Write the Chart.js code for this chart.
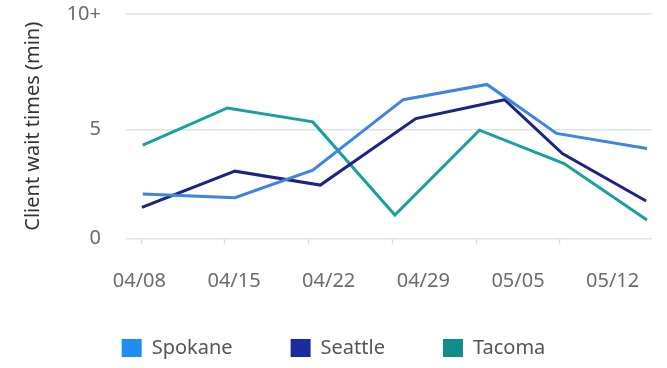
<!DOCTYPE html>
<html>
<head>
<meta charset="utf-8">
<script src="https://cdn.jsdelivr.net/npm/chart.js@4.4.1/dist/chart.umd.min.js"></script>
<style>
  html, body { margin: 0; padding: 0; background: #fff; }
</style>
</head>
<body>
<canvas id="waitChart" width="667" height="368"></canvas>
<script>
// x axis runs in weeks from the first sample; tick marks fall on whole weeks
const WEEK_MARKS = [0, 1, 2, 3, 4, 5];
const DATE_LABELS = ["04/08", "04/15", "04/22", "04/29", "05/05", "05/12"];
const DATE_LABEL_AT = [-0.02, 1.11, 2.24, 3.37, 4.50, 5.63];
const Y_TICKS = [0, 5, 10.3];

// sample times (weeks) and client wait times (min) per office
const spokaneWeeks = [0.02, 1.12, 2.05, 3.13, 4.13, 4.96, 6.04];
const spokaneWait  = [2.04, 1.87, 3.14, 6.37, 7.07, 4.82, 4.13];
const seattleWeeks = [0.01, 1.12, 2.14, 3.28, 4.34, 5.03, 6.03];
const seattleWait  = [1.43, 3.09, 2.45, 5.50, 6.37, 3.90, 1.72];
const tacomaWeeks  = [0.02, 1.03, 2.05, 3.03, 4.04, 5.05, 6.04];
const tacomaWait   = [4.28, 5.99, 5.35, 1.08, 4.97, 3.44, 0.85];

const FONT = "'Noto Sans', 'Open Sans', sans-serif";
Chart.defaults.font.family = FONT;
Chart.defaults.font.size = 20;

function points(weeks, wait) {
  return weeks.map((w, i) => ({ x: w, y: wait[i] }));
}

function series(label, weeks, wait, swatch, line) {
  return {
    label: label,
    data: points(weeks, wait),
    backgroundColor: swatch,
    borderColor: line,
    borderWidth: 3,
    pointRadius: 0,
    tension: 0,
    fill: false,
  };
}

const ctx = document.getElementById("waitChart").getContext("2d");
new Chart(ctx, {
  type: "line",
  data: {
    datasets: [
      series("Spokane", spokaneWeeks, spokaneWait, "#1e8cf0", "#3d85e0"),
      series("Seattle", seattleWeeks, seattleWait, "#1a2b9e", "#1c2385"),
      series("Tacoma", tacomaWeeks, tacomaWait, "#0f8c8c", "#1a9e9e"),
    ],
  },
  options: {
    responsive: false,
    animation: false,
    layout: { padding: { top: 14, left: 0, right: 0, bottom: 0 } },
    scales: {
      x: {
        type: "linear",
        min: -0.18,
        max: 6.1,
        // whole-week marks carry the tick lines, date ticks carry the text
        afterBuildTicks: (axis) => {
          const marks = WEEK_MARKS.map((v) => ({ value: v, mark: true }));
          const dates = DATE_LABEL_AT.map((v, i) => ({ value: v, text: DATE_LABELS[i] }));
          axis.ticks = marks.concat(dates).sort((a, b) => a.value - b.value);
        },
        afterFit: (scale) => { scale.height = 41.5; },
        ticks: {
          autoSkip: false,
          maxRotation: 0,
          // mirrored labels are not clipped to the short axis box;
          // the negative padding pushes them back below the axis
          mirror: true,
          padding: -43,
          color: "#6b6b6b",
          font: { size: 20, lineHeight: "1px" },
          callback: (v, i, ticks) => ticks[i].text || "",
        },
        grid: {
          drawOnChartArea: false,
          tickLength: 5,
          tickWidth: 1.5,
          tickColor: (c) => (c.tick && c.tick.mark ? "#d8d8d8" : "rgba(0,0,0,0)"),
        },
        border: { display: false },
      },
      y: {
        min: 0,
        max: 10.3,
        afterBuildTicks: (axis) => {
          axis.ticks = Y_TICKS.map((v) => ({ value: v }));
        },
        afterFit: (scale) => { scale.width = 126; },
        ticks: {
          padding: 0,
          color: "#6b6b6b",
          callback: (v) => (v > 10 ? "10+" : v),
        },
        grid: {
          color: "#e2e2e2",
          lineWidth: 1.5,
          tickLength: 25,
          tickColor: "rgba(0,0,0,0)",
        },
        border: { display: false },
        title: {
          display: true,
          text: "Client wait times (min)",
          color: "#333333",
          font: { size: 20 },
          padding: { top: 21, bottom: 0 },
        },
      },
      // empty axis that keeps a margin on the right of the plot
      yGap: {
        position: "right",
        display: true,
        afterFit: (scale) => { scale.width = 15; },
        ticks: { display: false },
        grid: { display: false },
        border: { display: false },
      },
    },
    plugins: {
      tooltip: { enabled: false },
      legend: {
        position: "bottom",
        labels: {
          boxWidth: 20,
          boxHeight: 18,
          padding: 58,
          color: "#555555",
          font: { size: 20 },
          generateLabels: (chart) =>
            Chart.defaults.plugins.legend.labels.generateLabels(chart).map((item) =>
              Object.assign(item, { strokeStyle: item.fillStyle, lineWidth: 0 })),
        },
      },
    },
  },
});
</script>
</body>
</html>
